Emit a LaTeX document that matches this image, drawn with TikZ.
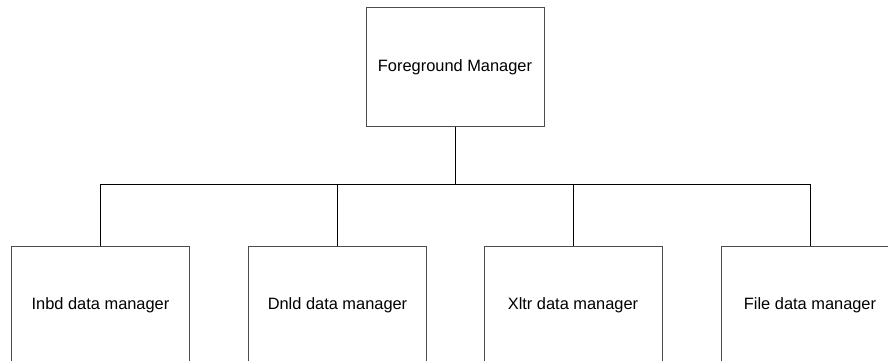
\documentclass[tikz,border=0pt]{standalone}
\usepackage{fontspec}
\setmainfont{Liberation Sans}
\begin{document}
\begin{tikzpicture}[x=1pt,y=-1pt,
  box/.style={draw=black!70,line width=1pt,fill=white,minimum width=178pt,minimum height=119pt,inner sep=0pt,font=\fontsize{16.4}{19}\selectfont},
  conn/.style={draw=black,line width=1pt}]
\useasboundingbox (0,0) rectangle (888,360);
\clip (0,0) rectangle (888,360);
\node[box] (top) at (455,67) {Foreground Manager};
\node[box] (b1) at (100.5,305.5) {Inbd data manager};
\node[box] (b2) at (337.5,305.5) {Dnld data manager};
\node[box] (b3) at (573,305.5) {Xltr data manager};
\node[box] (b4) at (810,305.5) {File data manager};
\coordinate (bus) at (455,184);
\draw[conn] (top.south) -- (top.south |- bus);
\draw[conn] (b1.north) -- (b1.north |- bus) -- (b4.north |- bus) -- (b4.north);
\draw[conn] (b2.north) -- (b2.north |- bus);
\draw[conn] (b3.north) -- (b3.north |- bus);
\end{tikzpicture}
\end{document}
